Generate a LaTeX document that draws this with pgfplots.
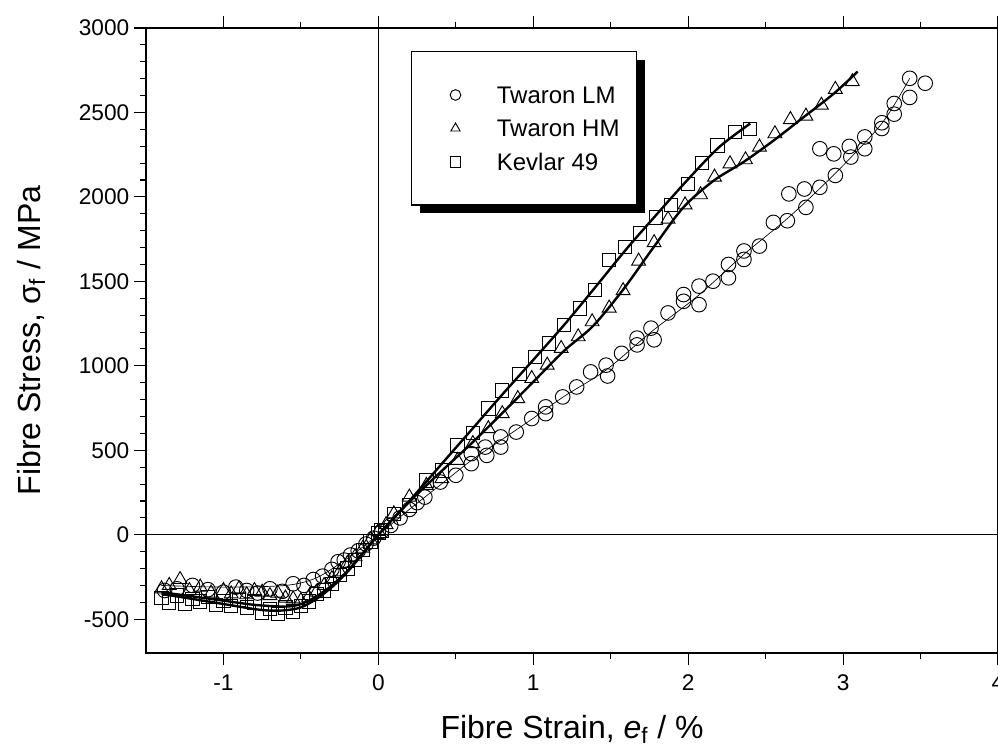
\documentclass[border=0pt]{standalone}
\usepackage{pgfplots}
\pgfplotsset{compat=1.18}
\usepackage{fontspec}
\setmainfont{Liberation Sans}
\usetikzlibrary{shadows}

\pgfplotsset{mylegimg/.style={legend image code/.code={\draw[mark repeat=2,mark phase=2,##1,mark size=4pt] plot coordinates {(-1pt,0pt) (0pt,0pt) (1pt,0pt)};}}}

\pgfplotstableread{
x y
-1.40 -375
-1.35 -400
-1.30 -360
-1.25 -410
-1.20 -380
-1.15 -395
-1.10 -370
-1.05 -415
-1.00 -390
-0.95 -420
-0.90 -385
-0.85 -430
-0.80 -400
-0.75 -460
-0.70 -440
-0.65 -470
-0.60 -430
-0.55 -455
-0.50 -420
-0.45 -395
-0.40 -350
-0.35 -330
-0.30 -290
-0.25 -240
-0.20 -200
-0.15 -150
-0.10 -90
-0.05 -40
0.00 10
0.02 25
0.10 124
0.20 174
0.31 322
0.41 381
0.51 529
0.61 602
0.71 747
0.80 855
0.91 950
1.01 1053
1.10 1132
1.20 1241
1.30 1340
1.40 1451
1.49 1628
1.59 1703
1.69 1783
1.79 1878
1.89 1953
2.00 2077
2.09 2200
2.19 2305
2.30 2385
2.40 2401
}\kevlar

\pgfplotstableread{
x y
-1.40 -320
-1.35 -300
-1.28 -265
-1.22 -330
-1.15 -310
-1.08 -345
-1.00 -330
-0.95 -350
-0.90 -320
-0.85 -355
-0.80 -330
-0.75 -340
-0.70 -360
-0.65 -345
-0.60 -375
-0.55 -380
-0.50 -390
-0.45 -370
-0.40 -340
-0.35 -300
-0.30 -260
-0.25 -220
-0.20 -170
-0.15 -130
-0.10 -80
-0.05 -30
0.00 20
0.05 60
0.10 124
0.20 223
0.31 292
0.41 332
0.51 440
0.61 540
0.71 628
0.80 717
0.90 806
0.99 925
1.09 1004
1.18 1103
1.29 1172
1.38 1261
1.49 1342
1.58 1445
1.68 1620
1.78 1729
1.87 1868
1.98 1953
2.08 2013
2.17 2117
2.27 2196
2.37 2220
2.46 2295
2.56 2374
2.66 2458
2.76 2478
2.86 2543
2.95 2637
3.06 2682
}\twaronhm

\pgfplotstableread{
x y
-1.38 -330
-1.30 -320
-1.20 -300
-1.10 -325
-1.00 -340
-0.92 -310
-0.85 -330
-0.78 -345
-0.70 -320
-0.62 -335
-0.55 -290
-0.48 -300
-0.42 -265
-0.36 -245
-0.30 -205
-0.26 -160
-0.22 -150
-0.18 -120
-0.13 -95
-0.08 -55
-0.03 -20
0.02 20
0.08 55
0.14 100
0.20 150
0.25 190
0.30 223
0.40 312
0.50 352
0.60 480
0.60 421
0.69 519
0.70 470
0.79 579
0.79 519
0.89 608
0.99 688
1.08 757
1.08 717
1.19 816
1.28 875
1.37 964
1.47 1004
1.48 940
1.57 1074
1.67 1164
1.67 1124
1.76 1223
1.78 1154
1.87 1313
1.97 1422
1.97 1382
2.07 1472
2.07 1362
2.16 1501
2.26 1600
2.26 1521
2.36 1680
2.36 1630
2.46 1709
2.55 1849
2.64 1859
2.65 2018
2.75 2047
2.76 1938
2.85 2057
2.85 2285
2.94 2255
2.95 2127
3.04 2299
3.05 2236
3.14 2355
3.14 2285
3.25 2439
3.25 2405
3.33 2553
3.33 2490
3.43 2589
3.43 2702
3.53 2673
}\twaronlm

\begin{document}
\begin{tikzpicture}
\useasboundingbox (-109.5pt,-72pt) rectangle (639pt,489.75pt);
\begin{axis}[
  at={(0pt,0pt)}, anchor=south west,
  scale only axis, width=639pt, height=468.75pt,
  xmin=-1.5, xmax=4, ymin=-700, ymax=3000,
  xtick={-1,0,1,2,3,4}, minor x tick num=1,
  ytick={-500,0,500,1000,1500,2000,2500,3000}, minor y tick num=4,
  tick align=outside,
  xtick pos=both, ytick pos=left,
  xticklabel pos=bottom,
  major tick length=9pt, minor tick length=4.5pt,
  axis line style={line width=1pt},
  every tick/.style={line width=0.8pt, black},
  /pgf/number format/assume math mode=true,
  /pgf/number format/1000 sep={},
  tick label style={font=\fontsize{17}{20}\selectfont},
  xticklabel style={yshift=-4pt},
  xlabel={Fibre Strain, \textit{e}\textsubscript{f} / \%},
  ylabel={Fibre Stress, σ\textsubscript{f} / MPa},
  every axis x label/.style={at={(axis description cs:0.5,-0.122)}, anchor=center, font=\fontsize{24}{28}\selectfont},
  every axis y label/.style={at={(axis description cs:-0.135,0.5)}, rotate=90, anchor=center, font=\fontsize{24}{28}\selectfont},
  legend cell align=left,
  legend style={at={(axis description cs:0.311,0.963)}, anchor=north west,
    draw=black, line width=0.8pt, fill=white,
    inner xsep=29pt, inner ysep=26pt, row sep=12pt, column sep=27pt,
    font=\fontsize{18}{20}\selectfont,
    nodes={inner sep=0pt, text height=13pt, text depth=0pt},
    drop shadow={shadow xshift=6pt, shadow yshift=-6pt, opacity=1, fill=black}},
]
\addplot[black, line width=0.5pt, forget plot] coordinates {(0,-700) (0,3000)};
\addplot[black, line width=0.5pt, forget plot] coordinates {(-1.5,0) (4,0)};

\addplot[only marks, mark=o, mark size=5.5pt, mark options={line width=0.7pt, draw=black, fill=none}, mylegimg]
  table {\twaronlm};
\addlegendentry{\makebox[76pt][l]{Twaron LM}}
\addplot[only marks, mark=triangle, mark size=6pt, mark options={line width=0.7pt, draw=black, fill=none}, mylegimg]
  table {\twaronhm};
\addlegendentry{\makebox[76pt][l]{Twaron HM}}
\addplot[only marks, mark=square, mark size=5pt, mark options={line width=0.7pt, draw=black, fill=none}, mylegimg]
  table {\kevlar};
\addlegendentry{\makebox[76pt][l]{Kevlar 49}}

\addplot[black, line width=0.5pt, smooth, forget plot] coordinates {
(-1.4,-300) (-1.0,-310) (-0.6,-300) (-0.4,-255) (-0.2,-140) (0,0) (0.2,150) (0.4,295)
(0.6,440) (0.8,565) (1.0,690) (1.2,820) (1.47,975) (1.76,1200) (2.07,1420) (2.36,1660)
(2.65,1880) (2.95,2140) (3.25,2435) (3.43,2702)};
\addplot[black, line width=1.8pt, smooth, forget plot] coordinates {
(-1.4,-340) (-1.2,-365) (-1.0,-390) (-0.8,-415) (-0.6,-425) (-0.5,-410) (-0.4,-365) (-0.3,-300)
(-0.2,-215) (-0.1,-110) (0,0) (0.2,195) (0.4,370) (0.6,540) (0.8,720) (1.0,905) (1.2,1090)
(1.385,1235) (1.58,1451) (1.775,1700) (1.969,1938) (2.164,2096) (2.358,2207) (2.553,2335)
(2.748,2474) (2.942,2613) (3.094,2742)};
\addplot[black, line width=1.8pt, smooth, forget plot] coordinates {
(-1.4,-350) (-1.2,-380) (-1.0,-410) (-0.8,-440) (-0.7,-449) (-0.6,-447) (-0.5,-430) (-0.4,-380)
(-0.3,-310) (-0.2,-220) (-0.1,-110) (0,0) (0.2,200) (0.4,410) (0.6,620) (0.8,830) (1.0,1035)
(1.2,1243) (1.4,1465) (1.6,1690) (1.8,1900) (2.0,2105) (2.2,2295) (2.4,2434)};
\end{axis}
\end{tikzpicture}
\end{document}
